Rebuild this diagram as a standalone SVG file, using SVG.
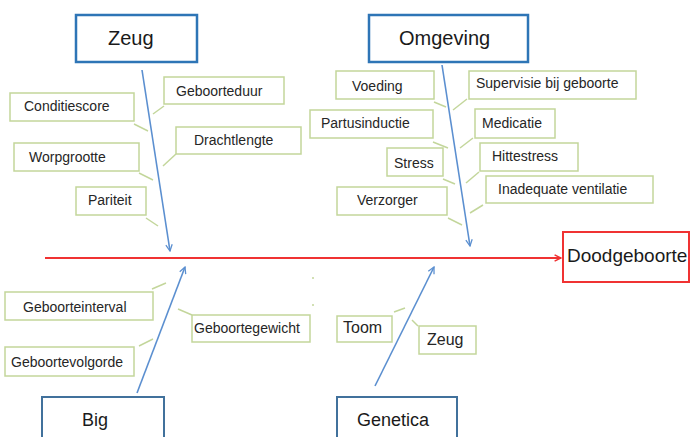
<svg xmlns="http://www.w3.org/2000/svg" width="691" height="437" viewBox="0 0 691 437">
<style>
text{font-family:"Liberation Sans",Arial,sans-serif;fill:#262626}
.lbl rect{fill:#fff;stroke:#c3d69b;stroke-width:1.5}
.lbl text{font-size:14px}
.cat1 rect{fill:#fff;stroke:#2e75b6;stroke-width:2.5}
.cat2 rect{fill:#fff;stroke:#41719c;stroke-width:2}
.cat1 text{font-size:20px;fill:#1a1a1a}
.cat2 text{font-size:18px;fill:#1a1a1a}
.tick{stroke:#c3d69b;stroke-width:1.5;fill:none}
.arr{stroke:#5b8fd0;stroke-width:1.6;fill:none;marker-end:url(#ab)}
</style>
<defs>
<marker id="ab" viewBox="0 0 10 10" refX="9" refY="5" markerWidth="8" markerHeight="8" orient="auto" markerUnits="userSpaceOnUse"><path d="M1,1 L9,5 L1,9" fill="none" stroke="#5b8fd0" stroke-width="1.6"/></marker>
<marker id="ar" viewBox="0 0 10 10" refX="9" refY="5" markerWidth="8" markerHeight="8" orient="auto" markerUnits="userSpaceOnUse"><path d="M1,1 L9,5 L1,9" fill="none" stroke="#f03232" stroke-width="1.8"/></marker>
</defs>
<rect width="691" height="437" fill="#fff"/>

<g id="connectors">
<line x1="45" y1="258" x2="561" y2="258" stroke="#f03232" stroke-width="2" marker-end="url(#ar)"/>
<line class="arr" x1="142" y1="70" x2="170" y2="251"/>
<line class="arr" x1="442" y1="65" x2="470" y2="246"/>
<line class="arr" x1="137" y1="393" x2="185" y2="267"/>
<line class="arr" x1="375" y1="386" x2="434" y2="267"/>
<line class="tick" x1="134" y1="124" x2="148" y2="131"/>
<line class="tick" x1="164" y1="106" x2="153" y2="114"/>
<line class="tick" x1="176" y1="154" x2="163" y2="166"/>
<line class="tick" x1="139" y1="173" x2="153" y2="180"/>
<line class="tick" x1="146" y1="218" x2="158" y2="226"/>
<line class="tick" x1="434" y1="102" x2="446" y2="107"/>
<line class="tick" x1="467" y1="99" x2="453" y2="110"/>
<line class="tick" x1="433" y1="142" x2="448" y2="148"/>
<line class="tick" x1="473" y1="138" x2="460" y2="148"/>
<line class="tick" x1="443" y1="179" x2="455" y2="184"/>
<line class="tick" x1="479" y1="172" x2="466" y2="183"/>
<line class="tick" x1="448" y1="218" x2="462" y2="225"/>
<line class="tick" x1="483" y1="205" x2="470" y2="213"/>
<line class="tick" x1="152" y1="289" x2="166" y2="283"/>
<line class="tick" x1="178" y1="309" x2="192" y2="315"/>
<line class="tick" x1="139" y1="346" x2="153" y2="339"/>
<line class="tick" x1="394" y1="312" x2="405" y2="308"/>
<line class="tick" x1="412" y1="320" x2="418" y2="326"/>
<line class="tick" x1="313" y1="277" x2="313" y2="279"/>
<line class="tick" x1="313" y1="304" x2="313" y2="306"/>
</g>

<g id="zeug" class="cat1"><rect x="76" y="15" width="121" height="47"/><text x="108" y="45">Zeug</text></g>
<g id="omgeving" class="cat1"><rect x="369" y="15" width="159" height="47"/><text x="399" y="45">Omgeving</text></g>
<g id="big" class="cat2"><rect x="42" y="397" width="122" height="50"/><text x="82" y="426">Big</text></g>
<g id="genetica" class="cat2"><rect x="337" y="397" width="120" height="50"/><text x="357" y="426">Genetica</text></g>
<g id="doodgeboorte"><rect x="563" y="232" width="126" height="50" fill="#fff" stroke="#f03232" stroke-width="2"/><text x="567" y="262" font-size="19" style="fill:#1a1a1a">Doodgeboorte</text></g>

<g id="geboorteduur" class="lbl"><rect x="164" y="77" width="120" height="27"/><text x="176" y="96">Geboorteduur</text></g>
<g id="conditiescore" class="lbl"><rect x="10" y="93" width="124" height="28"/><text x="24" y="111">Conditiescore</text></g>
<g id="drachtlengte" class="lbl"><rect x="176" y="127" width="125" height="27"/><text x="194" y="145">Drachtlengte</text></g>
<g id="worpgrootte" class="lbl"><rect x="14" y="143" width="125" height="28"/><text x="29" y="162">Worpgrootte</text></g>
<g id="pariteit" class="lbl"><rect x="76" y="187" width="70" height="28"/><text x="88" y="205">Pariteit</text></g>

<g id="voeding" class="lbl"><rect x="336" y="71" width="98" height="28"/><text x="352" y="91">Voeding</text></g>
<g id="supervisie" class="lbl"><rect x="469" y="71" width="167" height="28"/><text x="476" y="88">Supervisie bij geboorte</text></g>
<g id="partusinductie" class="lbl"><rect x="310" y="110" width="123" height="28"/><text x="321" y="128">Partusinductie</text></g>
<g id="medicatie" class="lbl"><rect x="475" y="109" width="80" height="29"/><text x="482" y="128">Medicatie</text></g>
<g id="stress" class="lbl"><rect x="387" y="148" width="56" height="28"/><text x="394" y="168">Stress</text></g>
<g id="hittestress" class="lbl"><rect x="480" y="143" width="98" height="28"/><text x="492" y="161">Hittestress</text></g>
<g id="verzorger" class="lbl"><rect x="337" y="187" width="110" height="28"/><text x="357" y="205">Verzorger</text></g>
<g id="ventilatie" class="lbl"><rect x="486" y="176" width="167" height="27"/><text x="498" y="194">Inadequate ventilatie</text></g>

<g id="geboorteinterval" class="lbl"><rect x="5" y="292" width="148" height="28"/><text x="23" y="312">Geboorteinterval</text></g>
<g id="geboortegewicht" class="lbl"><rect x="192" y="315" width="118" height="27"/><text x="194" y="333">Geboortegewicht</text></g>
<g id="geboortevolgorde" class="lbl"><rect x="5" y="347" width="129" height="29"/><text x="11" y="367">Geboortevolgorde</text></g>
<g id="toom" class="lbl"><rect x="337" y="316" width="55" height="26"/><text x="343" y="333" style="font-size:16px">Toom</text></g>
<g id="zeug2" class="lbl"><rect x="419" y="326" width="57" height="28"/><text x="427" y="345" style="font-size:16px">Zeug</text></g>
</svg>
